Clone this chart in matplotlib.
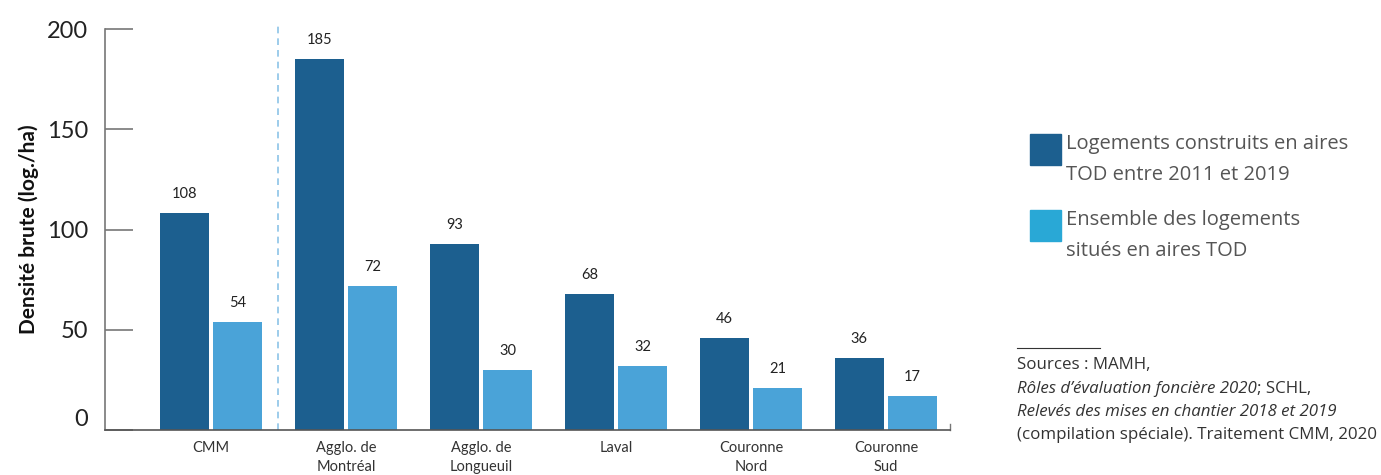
import numpy as np
import matplotlib.pyplot as plt
from matplotlib.patches import Rectangle
from matplotlib.lines import Line2D

plt.rcParams['font.family'] = ['Lato', 'DejaVu Sans']

categories = ["CMM", "Agglo. de\nMontréal", "Agglo. de\nLongueuil", "Laval",
              "Couronne\nNord", "Couronne\nSud"]
construits = [108, 185, 93, 68, 46, 36]
ensemble = [54, 72, 30, 32, 21, 17]
legend_labels = ["Logements construits en aires\nTOD entre 2011 et 2019",
                 "Ensemble des logements\nsitués en aires TOD"]

dark = "#1c5f8f"
light = "#4aa3d8"
legend_light = "#29a8d6"
grey_txt = "#555555"
wide = ['Open Sans', 'DejaVu Sans']

fig = plt.figure(figsize=(13.81, 4.75), dpi=100)
ax = fig.add_axes([105 / 1381, 1 - 430 / 475, 845 / 1381, 401 / 475])

x = np.arange(len(categories))
w = 0.363
off = 0.197
b1 = ax.bar(x - off, construits, w, color=dark)
b2 = ax.bar(x + off, ensemble, w, color=light)
for bars, vals in ((b1, construits), (b2, ensemble)):
    for r, v in zip(bars, vals):
        ax.text(r.get_x() + r.get_width() / 2, v + 6, str(v), ha="center",
                va="bottom", fontsize=10.5, color="#222222")

ax.set_xlim(-0.785, 5.474)
ax.set_ylim(0, 200)
ax.set_yticks([0, 50, 100, 150, 200])
ax.tick_params(axis="y", direction="in", length=20, width=1.2, color="#777777",
               labelsize=17, labelcolor="#222222", pad=12)
# the "0" label sits a little above the axis line in the original
ax.get_yticklabels()[0].set_va("bottom")
ax.set_xticks(x)
ax.set_xticklabels(categories, fontsize=10.5, color="#333333", linespacing=1.4)
ax.tick_params(axis="x", length=0, pad=8)

for s in ("top", "right"):
    ax.spines[s].set_visible(False)
ax.spines["left"].set_color("#777777")
ax.spines["left"].set_linewidth(1.2)
ax.spines["bottom"].set_color("#555555")
ax.spines["bottom"].set_linewidth(1.2)
# small end tick on the x axis
ax.plot([5.474, 5.474], [0, 3], color="#777777", lw=1, clip_on=False)

# dashed separator between CMM and the sub-regions
ax.axvline(0.5, ymin=0, ymax=1.01, color="#8cc4e8", lw=1.2, ls=(0, (4, 3)),
           clip_on=False)

ax.set_ylabel("Densité brute (log./ha)", fontsize=15, fontweight="bold",
              color="#111111", labelpad=6)

# legend
for (yc, col, lab) in ((150, dark, legend_labels[0]),
                       (226, legend_light, legend_labels[1])):
    fig.patches.append(Rectangle((1030 / 1381, 1 - (yc + 15) / 475), 31 / 1381,
                                 31 / 475, transform=fig.transFigure,
                                 color=col))
    fig.text(1066 / 1381, 1 - (yc - 16) / 475, lab, fontsize=14.5,
             family=wide, color=grey_txt, va="top", ha="left",
             linespacing=1.7)

# sources
fig.add_artist(Line2D([1017 / 1381, 1100 / 1381], [1 - 348 / 475] * 2,
                      color="#333333", lw=0.8))
src_lines = [("Sources : MAMH,", "normal"),
             ("Rôles d’évaluation foncière 2020", "italic"),
             ("Relevés des mises en chantier 2018 et 2019", "italic"),
             ("(compilation spéciale). Traitement CMM, 2020", "normal")]
ys = [365, 389, 412, 435]
for (t, st), yy in zip(src_lines, ys):
    txt = fig.text(1017 / 1381, 1 - yy / 475, t, fontsize=12.2, style=st,
                   family=wide, color="#333333", va="center", ha="left")
    if t.startswith("Rôles"):
        fig.canvas.draw()
        bb = txt.get_window_extent()
        fig.text(bb.x1 / 1381, 1 - yy / 475, "; SCHL,", fontsize=12.2,
                 family=wide, color="#333333", va="center", ha="left")

fig.savefig("out.png", dpi=100)
